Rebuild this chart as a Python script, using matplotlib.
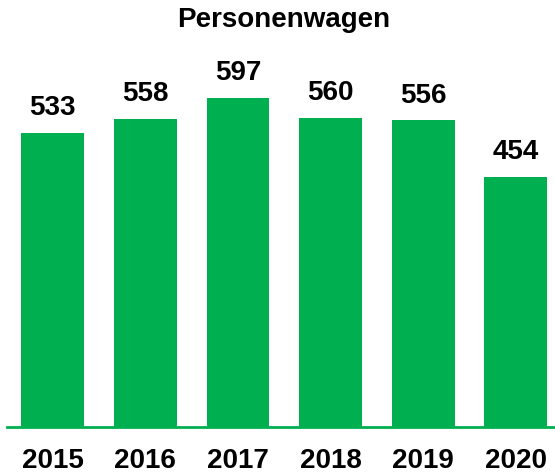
import matplotlib
matplotlib.use("Agg")
import matplotlib.pyplot as plt

# data
years = ["2015", "2016", "2017", "2018", "2019", "2020"]
values = [533, 558, 597, 560, 556, 454]
title = "Personenwagen"

bar_color = "#00B050"

plt.rcParams["font.family"] = ["Liberation Sans", "DejaVu Sans"]
plt.rcParams["font.weight"] = "bold"

fig = plt.figure(figsize=(5.55, 4.75), dpi=100)
# axes runs slightly past the right edge, like the source
ax = fig.add_axes([6.5 / 555, 48 / 475, 555.6 / 555, 387 / 475])

x = list(range(len(years)))
bars = ax.bar(x, values, width=0.68, color=bar_color, edgecolor="none")

for xi, v in zip(x, values):
    ax.annotate(str(v), (xi, v), xytext=(0, 8.5), textcoords="offset points",
                ha="center", va="bottom", fontsize=20, fontweight="bold")

ax.set_xlim(-0.5, len(years) - 0.5)
ax.set_ylim(0, 387 / (294 / 533))
ax.set_xticks(x)
ax.set_xticklabels(years, fontsize=20, fontweight="bold")
ax.tick_params(axis="x", length=0, pad=15)
ax.set_yticks([])
for side in ["top", "right", "left"]:
    ax.spines[side].set_visible(False)
ax.spines["bottom"].set_color(bar_color)
ax.spines["bottom"].set_linewidth(2)

fig.text(284 / 555, 1 - 7 / 475, title, ha="center", va="top",
         fontsize=20, fontweight="bold")

fig.savefig("out.png", dpi=100)
